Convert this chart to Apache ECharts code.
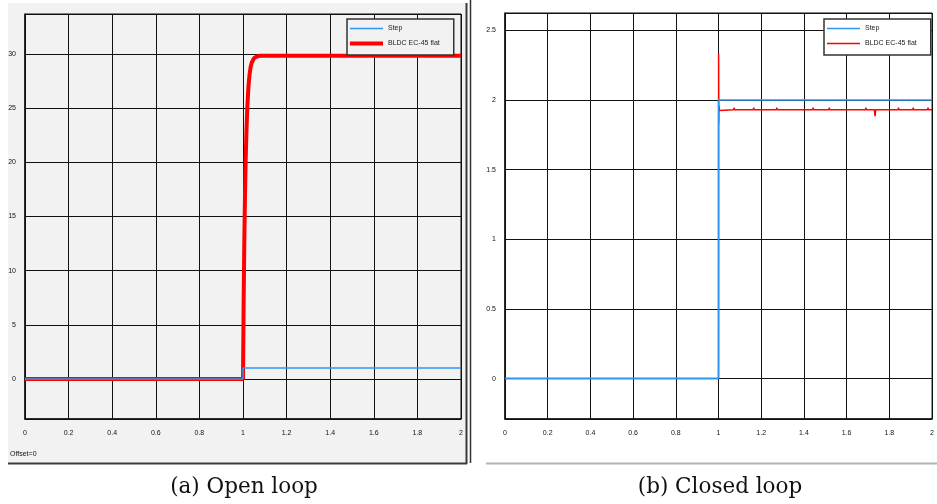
<!DOCTYPE html>
<html><head><meta charset="utf-8">
<script src="https://cdn.jsdelivr.net/npm/echarts@6/dist/echarts.min.js"></script>
<style>html,body{margin:0;padding:0;background:#fff}#c{width:937px;height:504px}</style>
</head><body><div id="c"></div><script>
// ---- Data ----
const openTime     = [0, 1.0, 1.003, 1.006, 1.009, 1.012, 1.016, 1.020, 1.025, 1.030, 1.035, 1.040, 1.050, 1.060, 1.070, 1.080, 2.0];
const openResponse = [0, 0,   7.2,   12.7,  16.8,  20.0,  23.0,  25.2,  27.0,  28.1,  28.8,  29.2,  29.6,  29.75, 29.82, 29.85, 29.85];
const openStepTime  = [0, 1, 1, 2];
const openStepValue = [0, 0, 1, 1];

const closedTime = [0, 1.0, 1.0004, 1.0012, 1.002, 1.004, 1.008,
  1.071, 1.073, 1.075, 1.094, 1.096, 1.098, 1.163, 1.165, 1.167, 1.179, 1.181, 1.183,
  1.271, 1.273, 1.275, 1.364, 1.366, 1.368, 1.441, 1.443, 1.445, 1.517, 1.519, 1.521,
  1.649, 1.651, 1.653, 1.688, 1.690, 1.692, 1.730, 1.733, 1.736, 1.827, 1.829, 1.831,
  1.841, 1.843, 1.845, 1.873, 1.875, 1.877, 1.910, 1.912, 1.914, 1.933, 1.935, 1.937,
  1.979, 1.981, 1.983, 2.0];
const closedResponse = [0, 0, 2.33, 1.83, 1.96, 1.925, 1.93,
  1.93, 1.945, 1.93, 1.93, 1.94, 1.93, 1.93, 1.945, 1.93, 1.93, 1.94, 1.93,
  1.93, 1.945, 1.93, 1.93, 1.94, 1.93, 1.93, 1.945, 1.93, 1.93, 1.945, 1.93,
  1.93, 1.94, 1.93, 1.93, 1.945, 1.93, 1.93, 1.885, 1.93, 1.93, 1.94, 1.93,
  1.93, 1.945, 1.93, 1.93, 1.94, 1.93, 1.93, 1.945, 1.93, 1.93, 1.94, 1.93,
  1.93, 1.945, 1.93, 1.93];
const closedStepTime  = [0, 1, 1, 2];
const closedStepValue = [0, 0, 2, 2];

const xTickLabels   = ['0', '0.2', '0.4', '0.6', '0.8', '1', '1.2', '1.4', '1.6', '1.8', '2'];
const openYLabels   = ['0', '5', '10', '15', '20', '25', '30'];
const closedYLabels = ['0', '0.5', '1', '1.5', '2', '2.5'];

const zip = (a, b) => a.map((v, i) => [v, b[i]]);
const fmt = list => v => { const s = String(+(+v).toFixed(3)); return list.includes(s) ? s : ''; };

const BLUE = '#2f95f2', RED = '#ff0000', GRIDC = '#111';
const lblStyle = { fontFamily: 'Liberation Sans', fontSize: 7, color: '#111' };
const thinIcon = 'path://M0,0h66v3h-66z';
const thickIcon = 'path://M0,0h66v8h-66z';

function xAx(gi) {
  return { type: 'value', gridIndex: gi, min: 0, max: 2, interval: 0.2,
    axisLine: { show: true, onZero: false, lineStyle: { color: '#111', width: 1.5 } },
    axisTick: { show: false },
    splitLine: { show: true, lineStyle: { color: GRIDC, width: 1 } },
    axisLabel: Object.assign({ margin: 11, formatter: fmt(xTickLabels), showMinLabel: true, showMaxLabel: true }, lblStyle) };
}
function yAx(gi, min, max, splits, labels) {
  return { type: 'value', gridIndex: gi, min: min, max: max, splitNumber: splits,
    axisLine: { show: true, lineStyle: { color: '#111', width: 1.5 } },
    axisTick: { show: false },
    splitLine: { show: true, lineStyle: { color: GRIDC, width: 1 } },
    axisLabel: Object.assign({ margin: 9, formatter: fmt(labels) }, lblStyle) };
}

const chart = echarts.init(document.getElementById('c'), null, { renderer: 'canvas' });
chart.setOption({
  animation: false,
  backgroundColor: '#ffffff',
  grid: [
    { left: 25, top: 14, width: 436, height: 405, show: true, borderColor: '#111', borderWidth: 1, backgroundColor: 'transparent' },
    { left: 505, top: 13, width: 432, height: 406, show: true, borderColor: '#111', borderWidth: 1, backgroundColor: 'transparent' }
  ],
  xAxis: [xAx(0), xAx(1)],
  yAxis: [yAx(0, -3.7, 33.7, 7, openYLabels), yAx(1, -0.29, 2.625, 6, closedYLabels)],
  legend: [
    { orient: 'vertical', left: 347, top: 19, padding: [6, 14, 8, 3], itemGap: 8, itemWidth: 33, itemHeight: 8,
      backgroundColor: '#f2f2f2', borderColor: '#333', borderWidth: 1.5,
      data: [{ name: 'Step|a', icon: thinIcon }, { name: 'BLDC EC-45 flat|a', icon: thickIcon }],
      formatter: n => n.split('|')[0],
      textStyle: { fontFamily: 'Liberation Sans', fontSize: 7, color: '#222' } },
    { orient: 'vertical', left: 824, top: 19, padding: [6, 14, 8, 3], itemGap: 8, itemWidth: 33, itemHeight: 8,
      backgroundColor: '#ffffff', borderColor: '#333', borderWidth: 1.5,
      data: [{ name: 'Step|b', icon: thinIcon }, { name: 'BLDC EC-45 flat|b', icon: thinIcon }],
      formatter: n => n.split('|')[0],
      textStyle: { fontFamily: 'Liberation Sans', fontSize: 7, color: '#222' } }
  ],
  series: [
    { name: 'BLDC EC-45 flat|a', type: 'line', xAxisIndex: 0, yAxisIndex: 0, symbol: 'none',
      data: zip(openTime, openResponse), lineStyle: { color: RED, width: 4 }, itemStyle: { color: RED } },
    { name: 'Step|a', type: 'line', xAxisIndex: 0, yAxisIndex: 0, symbol: 'none',
      data: zip(openStepTime, openStepValue), lineStyle: { color: BLUE, width: 1.5 }, itemStyle: { color: BLUE } },
    { name: 'BLDC EC-45 flat|b', type: 'line', xAxisIndex: 1, yAxisIndex: 1, symbol: 'none',
      data: zip(closedTime, closedResponse), lineStyle: { color: RED, width: 1.5 }, itemStyle: { color: RED } },
    { name: 'Step|b', type: 'line', xAxisIndex: 1, yAxisIndex: 1, symbol: 'none',
      data: zip(closedStepTime, closedStepValue), lineStyle: { color: BLUE, width: 1.5 }, itemStyle: { color: BLUE } }
  ],
  graphic: [
    { type: 'rect', z: -100, shape: { x: 8, y: 3, width: 458, height: 460 }, style: { fill: '#f2f2f2' } },
    { type: 'line', z: 50, shape: { x1: 466.5, y1: 3, x2: 466.5, y2: 464 }, style: { stroke: '#3a3a3a', lineWidth: 2 } },
    { type: 'line', z: 50, shape: { x1: 8, y1: 463.5, x2: 467, y2: 463.5 }, style: { stroke: '#3a3a3a', lineWidth: 2 } },
    { type: 'line', z: 50, shape: { x1: 470.5, y1: 0, x2: 470.5, y2: 463 }, style: { stroke: '#333', lineWidth: 1.5 } },
    { type: 'line', z: 50, shape: { x1: 486, y1: 463.5, x2: 937, y2: 463.5 }, style: { stroke: '#b4b4b4', lineWidth: 2 } },
    { type: 'text', z: 50, left: 10, top: 451, style: { text: 'Offset=0', fontFamily: 'Liberation Sans', fontSize: 7, fill: '#111' } },
    { type: 'text', z: 50, x: 244, y: 487, style: { text: '(a) Open loop', fontFamily: 'DejaVu Serif', fontSize: 21.5, fill: '#111', align: 'center', verticalAlign: 'middle' } },
    { type: 'text', z: 50, x: 720, y: 487, style: { text: '(b) Closed loop', fontFamily: 'DejaVu Serif', fontSize: 21.5, fill: '#111', align: 'center', verticalAlign: 'middle' } }
  ]
});
</script></body></html>
